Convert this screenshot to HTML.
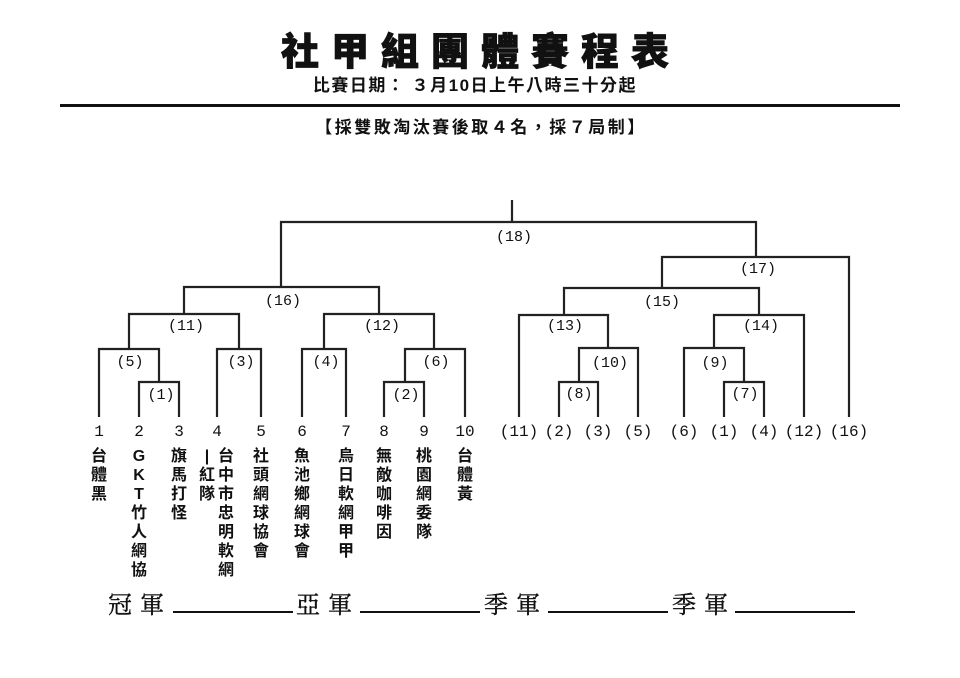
<!DOCTYPE html>
<html><head><meta charset="utf-8"><style>
html,body{margin:0;padding:0;background:#fff;}
svg{display:block;}
.t{font-family:"Liberation Sans","Noto Sans CJK TC",sans-serif;fill:#111;}
.m{font-family:"Liberation Mono","Noto Sans CJK TC",monospace;fill:#111;}
.s{font-family:"Liberation Serif","Noto Serif CJK SC",serif;fill:#111;}
</style></head><body>
<svg width="960" height="678" viewBox="0 0 960 678" xmlns="http://www.w3.org/2000/svg">
<rect width="960" height="678" fill="#fff"/>
<text class="t" x="481" y="65" font-size="38" font-weight="900" text-anchor="middle" letter-spacing="12" stroke="#111" stroke-width="0.8">社甲組團體賽程表</text>
<text class="t" x="475" y="91" font-size="17" font-weight="bold" text-anchor="middle" letter-spacing="1.5">比賽日期： ３月10日上午八時三十分起</text>
<rect x="60" y="104" width="840" height="3" fill="#111"/>
<text class="t" x="481" y="133" font-size="17" font-weight="bold" text-anchor="middle" letter-spacing="2.5">【採雙敗淘汰賽後取４名，採７局制】</text>
<g stroke="#222" stroke-width="2.2" fill="none">
<path d="M512 200V222M281 287V222H756V257"/>
<path d="M184 314V287H379V314"/>
<path d="M129 349V314H239V349"/>
<path d="M324 349V314H434V349"/>
<path d="M99 417V349H159V382"/>
<path d="M139 417V382H179V417"/>
<path d="M217 417V349H261V417"/>
<path d="M302 417V349H346V417"/>
<path d="M405 382V349H465V417"/>
<path d="M384 417V382H424V417"/>
<path d="M662 288V257H849V417"/>
<path d="M564 315V288H759V315"/>
<path d="M519 417V315H608V348"/>
<path d="M579 382V348H638V417"/>
<path d="M559 417V382H598V417"/>
<path d="M714 348V315H804V417"/>
<path d="M684 417V348H744V382"/>
<path d="M724 417V382H764V417"/>
</g>
<g class="m" font-size="15" text-anchor="middle">
<text x="514" y="241">(18)</text>
<text x="283" y="305">(16)</text>
<text x="186" y="330">(11)</text>
<text x="382" y="330">(12)</text>
<text x="130" y="366">(5)</text>
<text x="241" y="366">(3)</text>
<text x="326" y="366">(4)</text>
<text x="436" y="366">(6)</text>
<text x="161" y="399">(1)</text>
<text x="406" y="399">(2)</text>
<text x="758" y="273">(17)</text>
<text x="662" y="306">(15)</text>
<text x="565" y="330">(13)</text>
<text x="761" y="330">(14)</text>
<text x="610" y="367">(10)</text>
<text x="715" y="367">(9)</text>
<text x="579" y="398">(8)</text>
<text x="745" y="398">(7)</text>
</g>
<g class="m" font-size="16" text-anchor="middle">
<text x="99" y="436">1</text><text x="139" y="436">2</text><text x="179" y="436">3</text><text x="217" y="436">4</text><text x="261" y="436">5</text><text x="302" y="436">6</text><text x="346" y="436">7</text><text x="384" y="436">8</text><text x="424" y="436">9</text><text x="465" y="436">10</text>
<text x="519" y="436">(11)</text><text x="559" y="436">(2)</text><text x="598" y="436">(3)</text><text x="638" y="436">(5)</text><text x="684" y="436">(6)</text><text x="724" y="436">(1)</text><text x="764" y="436">(4)</text><text x="804" y="436">(12)</text><text x="849" y="436">(16)</text>
</g>
<g class="t" font-size="16" font-weight="bold" text-anchor="middle">
<text x="99" y="461">台</text><text x="99" y="480">體</text><text x="99" y="499">黑</text>
<text x="139" y="461">G</text><text x="139" y="480">K</text><text x="139" y="499">T</text><text x="139" y="518">竹</text><text x="139" y="537">人</text><text x="139" y="556">網</text><text x="139" y="575">協</text>
<text x="179" y="461">旗</text><text x="179" y="480">馬</text><text x="179" y="499">打</text><text x="179" y="518">怪</text>
<text x="207" y="461">|</text><text x="207" y="480">紅</text><text x="207" y="499">隊</text>
<text x="226" y="461">台</text><text x="226" y="480">中</text><text x="226" y="499">市</text><text x="226" y="518">忠</text><text x="226" y="537">明</text><text x="226" y="556">軟</text><text x="226" y="575">網</text>
<text x="261" y="461">社</text><text x="261" y="480">頭</text><text x="261" y="499">網</text><text x="261" y="518">球</text><text x="261" y="537">協</text><text x="261" y="556">會</text>
<text x="302" y="461">魚</text><text x="302" y="480">池</text><text x="302" y="499">鄉</text><text x="302" y="518">網</text><text x="302" y="537">球</text><text x="302" y="556">會</text>
<text x="346" y="461">烏</text><text x="346" y="480">日</text><text x="346" y="499">軟</text><text x="346" y="518">網</text><text x="346" y="537">甲</text><text x="346" y="556">甲</text>
<text x="384" y="461">無</text><text x="384" y="480">敵</text><text x="384" y="499">咖</text><text x="384" y="518">啡</text><text x="384" y="537">因</text>
<text x="424" y="461">桃</text><text x="424" y="480">園</text><text x="424" y="499">網</text><text x="424" y="518">委</text><text x="424" y="537">隊</text>
<text x="465" y="461">台</text><text x="465" y="480">體</text><text x="465" y="499">黃</text>
</g>
<g class="s" font-size="24" letter-spacing="8" stroke="#111" stroke-width="0.4">
<text x="108" y="613">冠軍</text>
<text x="296" y="613">亞軍</text>
<text x="484" y="613">季軍</text>
<text x="672" y="613">季軍</text>
</g>
<g fill="#111">
<rect x="173" y="611" width="120" height="2"/>
<rect x="360" y="611" width="120" height="2"/>
<rect x="548" y="611" width="120" height="2"/>
<rect x="735" y="611" width="120" height="2"/>
</g>
</svg>
</body></html>
